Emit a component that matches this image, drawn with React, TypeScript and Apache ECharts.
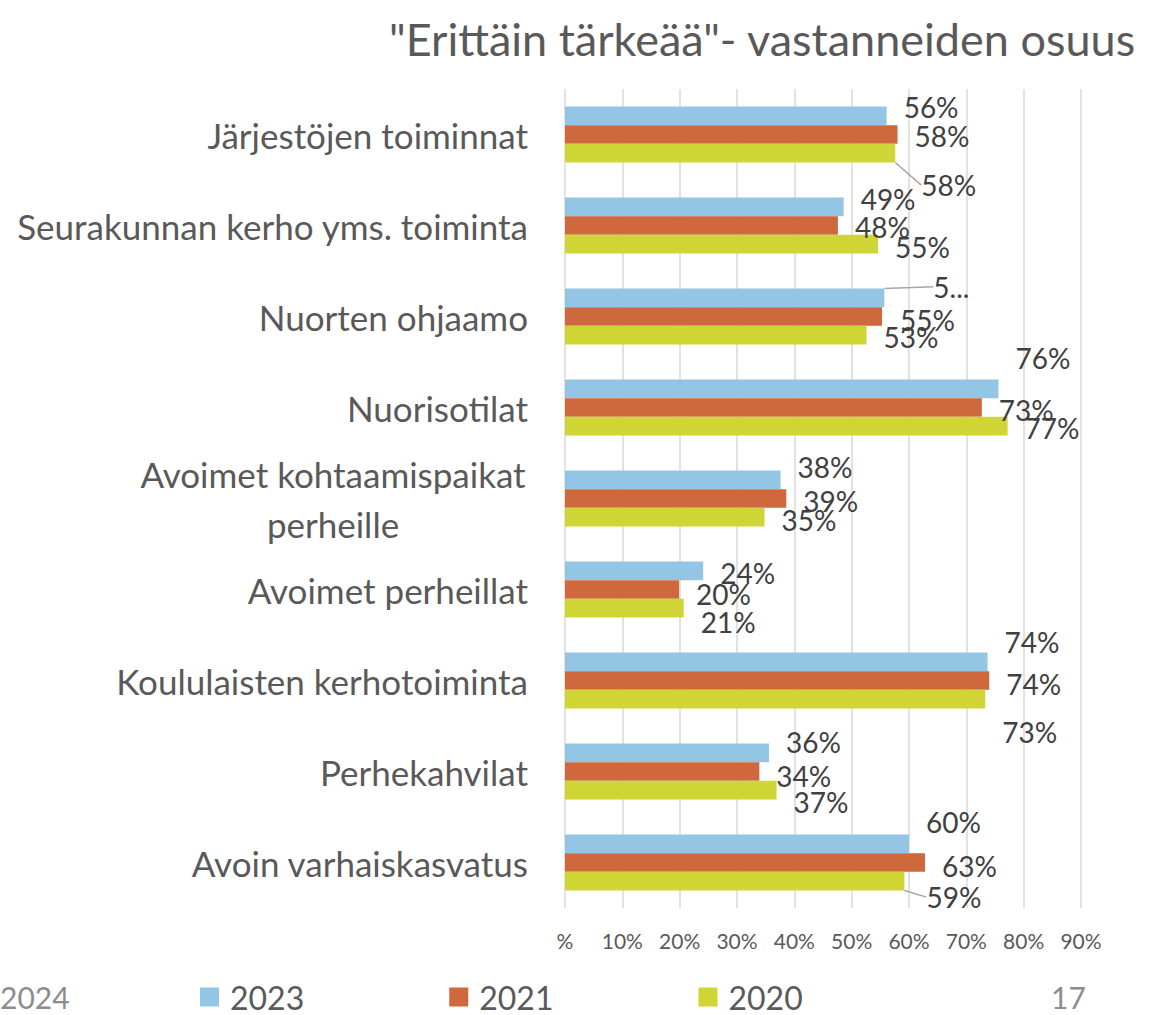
import React, { useEffect, useRef } from "react";
import * as echarts from "echarts";

const CATEGORIES = [
  "Järjestöjen toiminnat",
  "Seurakunnan kerho yms. toiminta",
  "Nuorten ohjaamo",
  "Nuorisotilat",
  "Avoimet kohtaamispaikat perheille",
  "Avoimet perheillat",
  "Koululaisten kerhotoiminta",
  "Perhekahvilat",
  "Avoin varhaiskasvatus",
];
const SERIES_NAMES = ["2023", "2021", "2020"];
const V2023 = [56.1, 48.6, 55.7, 75.6, 37.6, 24.1, 73.7, 35.6, 60.0];
const V2021 = [58.0, 47.6, 55.3, 72.7, 38.6, 19.9, 74.0, 33.9, 62.8];
const V2020 = [57.6, 54.6, 52.6, 77.2, 34.8, 20.7, 73.3, 36.9, 59.2];
const X_TICKS = [0, 10, 20, 30, 40, 50, 60, 70, 80, 90];
const TITLE = '"Erittäin tärkeää"- vastanneiden osuus';
const FOOT_LEFT = "2024";
const FOOT_RIGHT = "17";

// label placement (style): [dx, dy] per series per category
const LABEL_SHIFT = [
  [[0, -9], [0, -8], [32, -11], [0, -31], [0, -13], [0, 2], [0, -20], [0, -11], [0, -22]],
  [[0, 1], [0, 1], [1, 3], [0, 2], [0, 2], [0, 4], [0, 3], [0, 4], [0, 3]],
  [[9, 32], [0, 3], [0, 2], [0, 2], [0, 3], [0, 14], [0, 33], [0, 12], [5, 16]],
];
const LEADER = [[2], [], [0, 8]];
const TRUNCATED: Record<string, string> = { "0-2": "5..." };

const COLORS = ["#93C6E4", "#CF683C", "#CFD535"];
const FONT = "Lato, 'Noto Sans', sans-serif";

export default function App() {
  const ref = useRef<HTMLDivElement>(null);
  useEffect(() => {
    if (!ref.current) return;
    const chart = echarts.init(ref.current, undefined, { renderer: "svg" });
    const values = [V2023, V2021, V2020];
    const series = values.map((vals, s) => ({
      name: SERIES_NAMES[s],
      type: "bar",
      barGap: "0%",
      barCategoryGap: "38.5%",
      itemStyle: { color: COLORS[s] },
      label: {
        show: true,
        position: "right",
        distance: 17,
        fontFamily: FONT,
        fontSize: 28,
        color: "#404040",
        formatter: (p: any) => {
          const key = `${s}-${p.dataIndex}`;
          return TRUNCATED[key] ?? `${Math.round(p.value)}%`;
        },
      },
      labelLine: { show: false },
      labelLayout: (p: any) => ({
        dx: LABEL_SHIFT[s][p.dataIndex][0],
        dy: LABEL_SHIFT[s][p.dataIndex][1],
      }),
      data: vals.map((v, i) =>
        LEADER[s].includes(i)
          ? { value: v, labelLine: { show: true, lineStyle: { color: "#a6a6a6", width: 1.5 } } }
          : v
      ),
    }));

    chart.setOption({
      animation: false,
      backgroundColor: "#ffffff",
      textStyle: { fontFamily: FONT },
      title: {
        text: TITLE,
        left: 384,
        top: 11,
        textStyle: { fontFamily: FONT, fontSize: 45, fontWeight: "normal", color: "#595959" },
      },
      legend: {
        data: SERIES_NAMES,
        left: 200,
        top: 981,
        padding: 0,
        icon: "rect",
        itemWidth: 19,
        itemHeight: 19,
        itemGap: 145,
        textStyle: { fontFamily: FONT, fontSize: 32, color: "#595959", padding: [0, 0, 0, 6] },
      },
      grid: { left: 565, right: 71, top: 89, height: 819, containLabel: false },
      xAxis: {
        type: "value",
        min: 0,
        max: 90,
        interval: 10,
        axisLine: { show: false },
        axisTick: { show: false },
        splitLine: { show: true, lineStyle: { color: "#d9d9d9", width: 1.5 } },
        axisLabel: {
          margin: 22,
          fontFamily: FONT,
          fontSize: 21,
          color: "#595959",
          formatter: (v: number) => (X_TICKS.includes(v) ? (v === 0 ? "%" : `${v}%`) : ""),
        },
      },
      yAxis: {
        type: "category",
        inverse: true,
        data: CATEGORIES,
        axisLine: { show: false },
        axisTick: { show: false },
        axisLabel: {
          margin: 37,
          fontFamily: FONT,
          fontSize: 35,
          color: "#595959",
          formatter: (v: string) =>
            v === "Avoimet kohtaamispaikat perheille"
              ? "{c|Avoimet kohtaamispaikat}\n{c|perheille}"
              : v,
          rich: {
            c: {
              fontFamily: FONT,
              fontSize: 35,
              color: "#595959",
              width: 390,
              align: "center",
              lineHeight: 50,
            },
          },
        },
      },
      graphic: [
        {
          type: "text",
          left: 0,
          top: 982,
          style: { text: FOOT_LEFT, fontFamily: FONT, fontSize: 30, fill: "#8c8c8c" },
        },
        {
          type: "text",
          left: 1051,
          top: 982,
          style: { text: FOOT_RIGHT, fontFamily: FONT, fontSize: 30, fill: "#8c8c8c" },
        },
      ],
      series,
    });
    return () => chart.dispose();
  }, []);
  return (
    <div
      ref={ref}
      style={{ position: "absolute", left: 0, top: 0, width: 1152, height: 1015 }}
    />
  );
}
